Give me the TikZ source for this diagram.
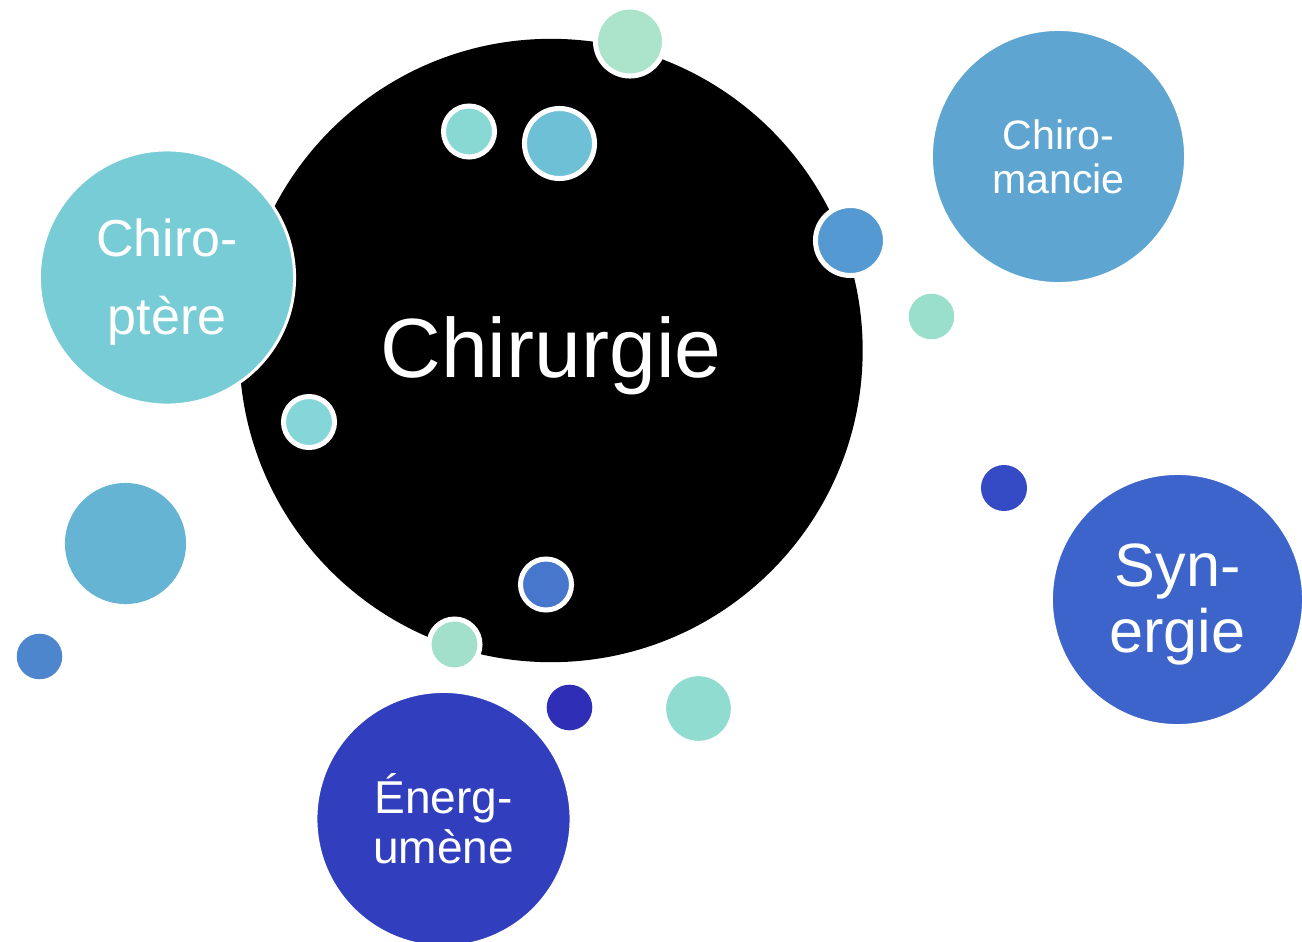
\documentclass[tikz,border=0pt]{standalone}
\usepackage{fontspec}
\setmainfont{Liberation Sans}
\definecolor{chiropt}{HTML}{78CCD5}
\definecolor{chiroman}{HTML}{5EA6D1}
\definecolor{synerg}{HTML}{3C64CB}
\definecolor{energ}{HTML}{313FBE}
\definecolor{mint}{HTML}{ABE3CB}
\definecolor{mintb}{HTML}{A3E0CC}
\definecolor{mintc}{HTML}{9ADFCC}
\definecolor{aqua}{HTML}{88D8D3}
\definecolor{aquab}{HTML}{84D6D9}
\definecolor{aquac}{HTML}{90DCD0}
\definecolor{skyteal}{HTML}{6DC0D5}
\definecolor{skytealb}{HTML}{65B4D3}
\definecolor{midblue}{HTML}{5599D2}
\definecolor{midblueb}{HTML}{4E86CE}
\definecolor{royal}{HTML}{4677CD}
\definecolor{royalb}{HTML}{354BC6}
\definecolor{navy}{HTML}{2E2EB6}

\begin{document}
\begin{tikzpicture}[x=0.01cm,y=-0.01cm,
  bubble/.style={circle,inner sep=0pt,text=white,align=center},
  rim/.style={draw=white,line width=0.05cm},
  thinrim/.style={draw=white,line width=0.03cm}]
\useasboundingbox (0,0) rectangle (1302,942);
%================================================================
%	Centre
\node[bubble, fill=black, minimum size=6.23cm, text height=20.6pt, text depth=5pt, font=\fontsize{23.9}{28}\selectfont] (chirurgie) at (551,350.5) {Chirurgie};
%----------------------------------------------------------------
\node[bubble, thinrim, fill=chiropt, minimum size=2.55cm, font=\fontsize{14.8}{22.2}\selectfont] (chiroptere) at (167,277.5) {\rule{0pt}{13.1pt}Chiro-\\ptère};

%================================================================
%	Outer words
\node[bubble, thinrim, fill=chiroman, minimum size=2.54cm, font=\fontsize{11.7}{12.5}\selectfont] (chiromancie) at (1058.5,156.5) {Chiro-\\mancie};
\node[bubble, thinrim, fill=synerg, minimum size=2.52cm, font=\fontsize{17.4}{18.8}\selectfont] (synergie) at (1177.5,599.5) {\rule{0pt}{15.2pt}Syn-\\ergie};
\node[bubble, thinrim, fill=energ, minimum size=2.55cm, font=\fontsize{13.1}{14.2}\selectfont] (energumene) at (443.5,819) {Énerg-\\umène};

%================================================================
%	Dots on the centre
\node[bubble, rim, fill=mint, minimum size=0.69cm] (dottop) at (630,41.5) {};
\node[bubble, rim, fill=aqua, minimum size=0.51cm] (dotleft) at (469,131.5) {};
\node[bubble, rim, fill=skyteal, minimum size=0.70cm] (dotmid) at (559.5,143.5) {};
\node[bubble, rim, fill=midblue, minimum size=0.70cm] (dotright) at (850.5,240.5) {};
\node[bubble, rim, fill=aquab, minimum size=0.51cm] (dotwest) at (309,422) {};
\node[bubble, rim, fill=royal, minimum size=0.51cm] (dotlow) at (546,584.5) {};
\node[bubble, rim, fill=mintb, minimum size=0.51cm] (dotedge) at (454.5,644.5) {};

%================================================================
%	Loose dots
\node[bubble, fill=mintc, minimum size=0.455cm] (looseeast) at (931.5,316.5) {};
\node[bubble, fill=royalb, minimum size=0.46cm] (loosesyn) at (1004,488) {};
\node[bubble, fill=navy, minimum size=0.456cm] (loosenavy) at (569.5,707.5) {};
\node[bubble, fill=aquac, minimum size=0.646cm] (loosesouth) at (698.5,708.5) {};
\node[bubble, fill=skytealb, minimum size=1.21cm] (loosebig) at (125.5,543.5) {};
\node[bubble, fill=midblueb, minimum size=0.455cm] (loosesmall) at (39.5,656.5) {};
%================================================================
\end{tikzpicture}
\end{document}
